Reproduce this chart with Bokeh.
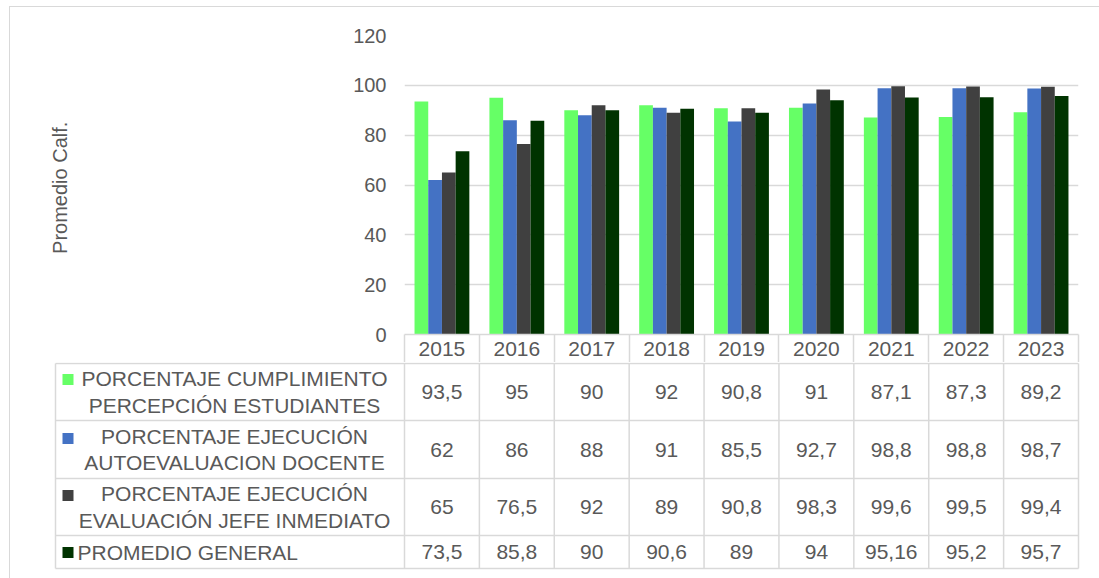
from bokeh.plotting import figure
from bokeh.models import ColumnDataSource, Range1d, FixedTicker
from bokeh.transform import dodge
from bokeh.embed import file_html
from bokeh.resources import INLINE
from bokeh.core.properties import value

# ---------------- data ----------------
years = ["2015", "2016", "2017", "2018", "2019", "2020", "2021", "2022", "2023"]
series_names = [
    "PORCENTAJE CUMPLIMIENTO\nPERCEPCIÓN ESTUDIANTES",
    "PORCENTAJE EJECUCIÓN\nAUTOEVALUACION DOCENTE",
    "PORCENTAJE EJECUCIÓN\nEVALUACIÓN JEFE INMEDIATO",
    "PROMEDIO GENERAL",
]
series_colors = ["#66FF66", "#4472C4", "#404040", "#003300"]
percepcion = [93.5, 95, 90, 92, 90.8, 91, 87.1, 87.3, 89.2]
autoevaluacion = [62, 86, 88, 91, 85.5, 92.7, 98.8, 98.8, 98.7]
jefe = [65, 76.5, 92, 89, 90.8, 98.3, 99.6, 99.5, 99.4]
promedio = [73.5, 85.8, 90, 90.6, 89, 94, 95.16, 95.2, 95.7]
y_ticks = [0, 20, 40, 60, 80, 100, 120]
y_label = "Promedio  Calf."

FONT = "Liberation Sans"
TXT = "#595959"
GRID = "#D9D9D9"

series = [percepcion, autoevaluacion, jefe, promedio]
n = len(years)
xc = [i + 0.5 for i in range(n)]


def fmt(v):
    return f"{v:g}".replace(".", ",")


LINE = f"linear-gradient({GRID},{GRID})"

# ---------------- chart ----------------
src = ColumnDataSource(dict(x=xc, s0=percepcion, s1=autoevaluacion, s2=jefe, s3=promedio))

top = figure(width=1099, height=362, x_range=Range1d(0, n), y_range=Range1d(0, 120),
             output_backend="svg", toolbar_location=None,
             min_border_left=404, min_border_right=21, min_border_top=35, min_border_bottom=28,
             styles={"background": f"{LINE} 9px 6px / 1px 100% no-repeat, "
                                   f"{LINE} 9px 6px / 100% 1px no-repeat, transparent"})
top.outline_line_color = None
top.background_fill_color = "white"
top.border_fill_color = None

bw = 0.183
offsets = [-1.5 * bw, -0.5 * bw, 0.5 * bw, 1.5 * bw]
for k, color in enumerate(series_colors):
    top.vbar(x=dodge("x", offsets[k]), top=f"s{k}", width=bw, source=src,
             fill_color=color, line_color=None)

xa = top.xaxis[0]
xa.ticker = FixedTicker(ticks=xc, minor_ticks=list(range(n + 1)))
xa.major_label_overrides = {x: y for x, y in zip(xc, years)}
xa.major_tick_in = 0
xa.major_tick_out = 0
xa.minor_tick_in = 0
xa.minor_tick_out = 28
xa.minor_tick_line_color = GRID
xa.minor_tick_line_width = 1.5
xa.axis_line_color = GRID
xa.axis_line_width = 1.5
xa.major_label_standoff = -21
xa.major_label_text_font = FONT
xa.major_label_text_font_size = "21px"
xa.major_label_text_color = TXT

ya = top.yaxis[0]
ya.ticker = FixedTicker(ticks=y_ticks)
ya.major_tick_in = 0
ya.major_tick_out = 0
ya.minor_tick_in = 0
ya.minor_tick_out = 0
ya.axis_line_color = None
ya.major_label_standoff = 18
ya.major_label_text_font = FONT
ya.major_label_text_font_size = "20px"
ya.major_label_text_color = TXT
ya.axis_label = y_label
ya.axis_label_standoff = 279
ya.axis_label_text_font = FONT
ya.axis_label_text_font_size = "20px"
ya.axis_label_text_font_style = "normal"
ya.axis_label_text_color = TXT

top.xgrid.visible = False
top.ygrid.ticker = FixedTicker(ticks=y_ticks)
top.ygrid.grid_line_color = GRID
top.ygrid.grid_line_width = 1.5

# ---------------- data table ----------------
ppu = 674 / n
x_leg = -(404 - 55) / ppu
bot = figure(width=1099, height=216,
             x_range=Range1d(-404 / ppu, 695 / ppu), y_range=Range1d(-215, 1),
             output_backend="svg", toolbar_location=None,
             x_axis_location=None, y_axis_location=None,
             min_border_left=0, min_border_right=0, min_border_top=0, min_border_bottom=0,
             styles={"background": f"{LINE} 9px 0px / 1px 100% no-repeat, transparent"})
bot.outline_line_color = None
bot.grid.visible = False
bot.border_fill_color = None
bot.background_fill_color = None

row_edges = [0, -57, -115, -172, -205]
row_mid = [(row_edges[r] + row_edges[r + 1]) / 2 for r in range(len(series))]

# grid lines
bot.segment(x0=[x_leg] * len(row_edges), x1=[n] * len(row_edges), y0=row_edges, y1=row_edges,
            line_color=GRID, line_width=1.5)
vx = [x_leg] + list(range(n + 1))
bot.segment(x0=vx, x1=vx, y0=[0] * len(vx), y1=[row_edges[-1]] * len(vx),
            line_color=GRID, line_width=1.5)

# values
tx, ty, tt = [], [], []
for r, vals in enumerate(series):
    for i, v in enumerate(vals):
        tx.append(xc[i])
        ty.append(row_mid[r])
        tt.append(fmt(v))
bot.text(x=tx, y=ty, text=tt, text_font=value(FONT), text_font_size="21px",
         text_color=TXT, text_align="center", text_baseline="middle")

# legend labels
lx_center = -(404 - 234) / ppu
lx_left = -(404 - 77) / ppu
leg_src = ColumnDataSource(dict(
    x=[lx_center, lx_center, lx_center, lx_left],
    y=row_mid,
    t=series_names,
    a=["center", "center", "center", "left"],
))
bot.text(x="x", y="y", text="t", text_align="a", source=leg_src, text_font=value(FONT),
         text_font_size="21px", text_color=TXT, text_baseline="middle", text_line_height=1.17)

# legend keys
bot.scatter(x=[-(404 - 67.5) / ppu] * len(series), y=[-16, -75, -132, -189], marker="square",
            size=11, fill_color=series_colors, line_color=None)

open("out.html", "w").write(file_html([top, bot], INLINE))
